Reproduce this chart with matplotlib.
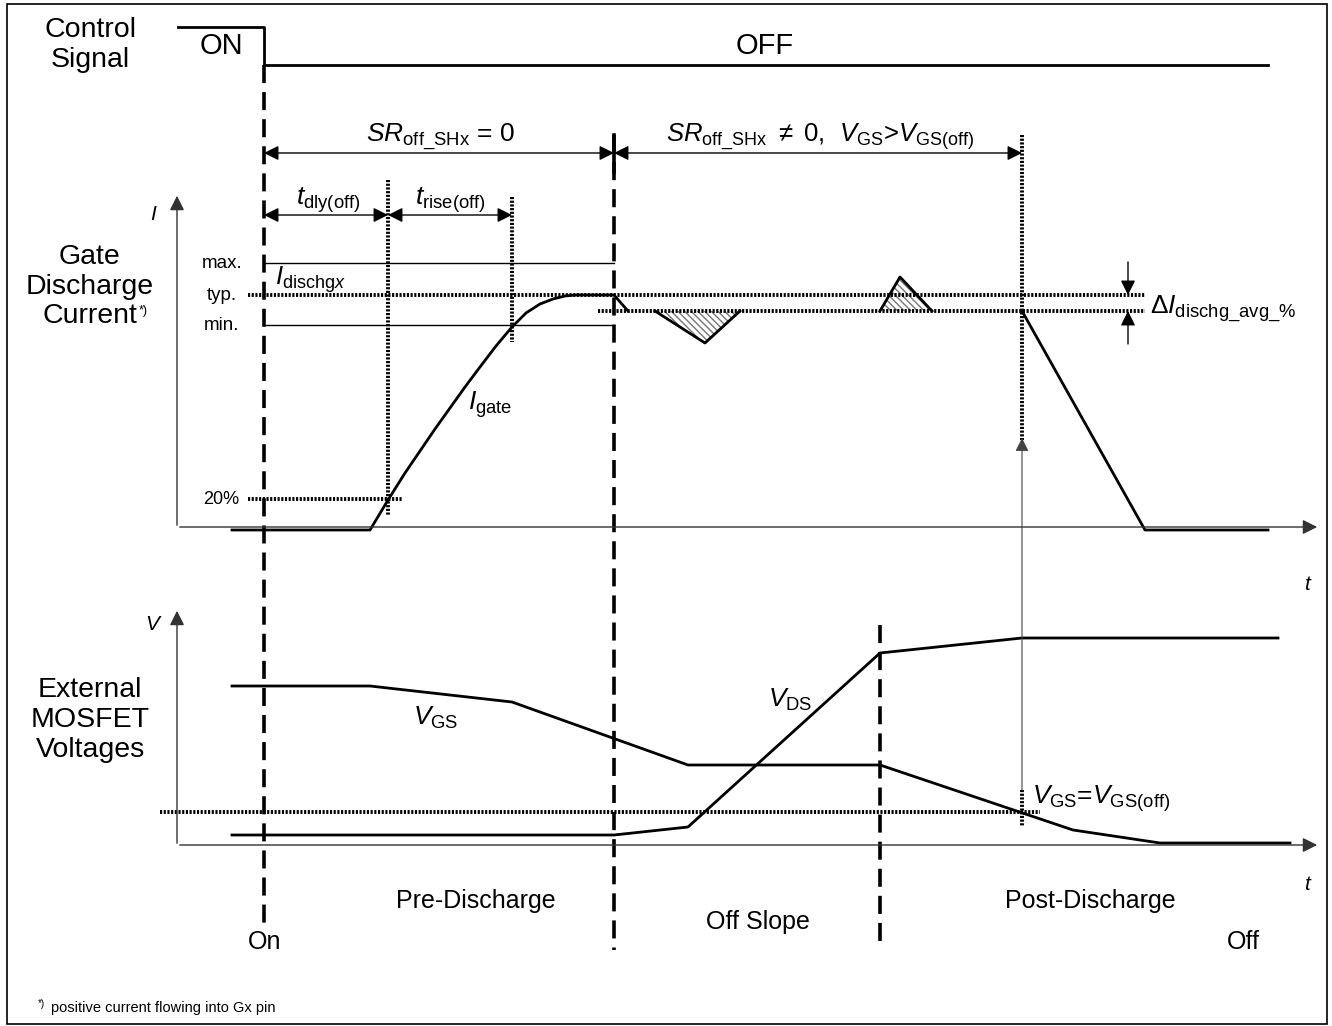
import matplotlib
matplotlib.use('Agg')
import matplotlib.pyplot as plt
from matplotlib.patches import Rectangle, Polygon

plt.rcParams['font.family'] = ['Liberation Sans', 'DejaVu Sans']
plt.rcParams['mathtext.fontset'] = 'custom'
plt.rcParams['mathtext.rm'] = 'Liberation Sans'
plt.rcParams['mathtext.it'] = 'Liberation Sans:italic'
plt.rcParams['mathtext.bf'] = 'Liberation Sans:bold'

# waveforms (diagram units, y grows downward)
ctrl_t = [178, 264, 264, 1268]
ctrl_y = [27, 27, 65, 65]

igate_t = [232, 370, 388, 405, 420, 435, 450, 465, 480, 496, 512, 526, 540, 553, 565, 575, 614, 628]
igate_y = [530, 530, 500, 473, 451, 429, 408, 387, 367, 346, 327, 313, 304, 299, 296, 295, 295, 311]
ifall_t = [1022, 1145, 1268]
ifall_y = [311, 530, 530]
dip_t = [655, 705, 740]
dip_y = [311, 343, 311]
bump_t = [880, 900, 932]
bump_y = [311, 277, 311]

vgs_t = [232, 370, 512, 688, 880, 1073, 1160, 1290]
vgs_y = [686, 686, 702, 765, 765, 830, 843, 843]
vds_t = [232, 614, 688, 880, 1022, 1278]
vds_y = [835, 835, 827, 653, 638, 638]

# current levels
lvl_max, lvl_typ, lvl_avg, lvl_min, lvl_20 = 263, 295, 311, 325, 499
vgs_off = 812

# event markers
dashed_x = [264, 614, 880]
dashed_y = [(65, 926), (135, 950), (625, 950)]
dotted_x = [388, 512, 1022]
dotted_y = [(180, 515), (197, 342), (135, 440)]

fig = plt.figure(figsize=(13.32, 10.26), dpi=100)
ax = fig.add_axes([0, 0, 1, 1])
ax.set_xlim(0, 1332)
ax.set_ylim(1026, 0)
ax.axis('off')

ax.add_patch(Rectangle((7, 4), 1320, 1020, fill=False, lw=1.2, ec='black'))

dash = (0, (5, 2.5))
dots = (0, (0.55, 0.4))

# control signal
ax.plot(ctrl_t, ctrl_y, color='black', lw=2)

# axes
ax.annotate('', xy=(177, 193), xytext=(177, 528),
            arrowprops=dict(arrowstyle='-|>', color='#333333', lw=1, mutation_scale=22))
ax.annotate('', xy=(1320, 527), xytext=(177, 527),
            arrowprops=dict(arrowstyle='-|>', color='#333333', lw=1, mutation_scale=22))
ax.annotate('', xy=(177, 608), xytext=(177, 846),
            arrowprops=dict(arrowstyle='-|>', color='#333333', lw=1, mutation_scale=22))
ax.annotate('', xy=(1320, 845), xytext=(177, 845),
            arrowprops=dict(arrowstyle='-|>', color='#333333', lw=1, mutation_scale=22))

# level lines
ax.plot([264, 614], [lvl_max, lvl_max], color='black', lw=1)
ax.plot([264, 614], [lvl_min, lvl_min], color='black', lw=1)
ax.plot([248, 1145], [lvl_typ, lvl_typ], color='black', lw=2.8, ls=dots)
ax.plot([598, 1145], [lvl_avg, lvl_avg], color='black', lw=2.8, ls=dots)
ax.plot([248, 402], [lvl_20, lvl_20], color='black', lw=2.8, ls=dots)
ax.plot([160, 1040], [vgs_off, vgs_off], color='black', lw=2.8, ls=dots)

# vertical markers
for x, (y0, y1) in zip(dashed_x, dashed_y):
    ax.plot([x, x], [y0, y1], color='black', lw=2.6, ls=dash)
for x, (y0, y1) in zip(dotted_x, dotted_y):
    ax.plot([x, x], [y0, y1], color='black', lw=2.8, ls=dots)
ax.plot([1022, 1022], [790, 826], color='black', lw=2.8, ls=dots)
ax.plot([614, 614], [135, 172], color='black', lw=2.6)

# gate current
ax.plot(igate_t, igate_y, color='black', lw=2)
ax.plot(ifall_t, ifall_y, color='black', lw=2)
for tt, yy in [(dip_t, dip_y), (bump_t, bump_y)]:
    pts = list(zip(tt, yy))
    ax.add_patch(Polygon(pts, closed=True, fill=False, hatch='\\\\\\\\\\', ec='#777777', lw=0))
    ax.plot(tt, yy, color='black', lw=2)

# voltages
ax.plot(vgs_t, vgs_y, color='black', lw=2)
ax.plot(vds_t, vds_y, color='black', lw=2)

# dimension arrows
def dim(x0, x1, y):
    ax.annotate('', xy=(x1, y), xytext=(x0, y),
                arrowprops=dict(arrowstyle='<|-|>', color='black', lw=1,
                                mutation_scale=22, shrinkA=0, shrinkB=0))

dim(264, 614, 153)
dim(614, 1022, 153)
dim(264, 388, 215)
dim(388, 512, 215)

ax.annotate('', xy=(1128, lvl_typ), xytext=(1128, 262),
            arrowprops=dict(arrowstyle='-|>', color='black', lw=1, mutation_scale=22, shrinkA=0, shrinkB=0))
ax.annotate('', xy=(1128, lvl_avg), xytext=(1128, 344),
            arrowprops=dict(arrowstyle='-|>', color='black', lw=1, mutation_scale=22, shrinkA=0, shrinkB=0))
ax.annotate('', xy=(1022, 438), xytext=(1022, 790),
            arrowprops=dict(arrowstyle='-|>', color='#444444', lw=0.8, mutation_scale=20, shrinkA=0, shrinkB=0))

# texts
big = 20.5
ax.text(90, 45, 'Control\nSignal', ha='center', va='center', fontsize=big, linespacing=1.2)
for yy, word in zip([257, 287, 316], ['Gate', 'Discharge', 'Current']):
    ax.text(90, yy, word, ha='center', va='center', fontsize=big)
ax.text(139, 311, '*)', ha='left', va='center', fontsize=9)
ax.text(90, 720, 'External\nMOSFET\nVoltages', ha='center', va='center', fontsize=big, linespacing=1.2)

ax.text(221, 46, 'ON', ha='center', va='center', fontsize=21)
ax.text(765, 46, 'OFF', ha='center', va='center', fontsize=21)

ax.text(440, 137, r'$\mathit{SR}_{\mathrm{off\_SHx}}$ = 0', ha='center', va='center', fontsize=19)
ax.text(820, 137, r'$\mathit{SR}_{\mathrm{off\_SHx}}$ $\neq$ 0,  $\mathit{V}_{\mathrm{GS}}$>$\mathit{V}_{\mathrm{GS(off)}}$',
        ha='center', va='center', fontsize=18.5)
ax.text(328, 200, r'$\mathit{t}_{\mathrm{dly(off)}}$', ha='center', va='center', fontsize=19)
ax.text(450, 200, r'$\mathit{t}_{\mathrm{rise(off)}}$', ha='center', va='center', fontsize=19)

ax.text(153, 215, 'I', ha='center', va='center', fontsize=15, style='italic')
ax.text(152, 625, 'V', ha='center', va='center', fontsize=15, style='italic')
ax.text(1307, 585, 't', ha='center', va='center', fontsize=15, style='italic')
ax.text(1307, 885, 't', ha='center', va='center', fontsize=15, style='italic')

ax.text(222, lvl_max, 'max.', ha='center', va='center', fontsize=13.5)
ax.text(222, lvl_typ, 'typ.', ha='center', va='center', fontsize=13.5)
ax.text(222, lvl_min, 'min.', ha='center', va='center', fontsize=13.5)
ax.text(221, lvl_20, '20%', ha='center', va='center', fontsize=13)

ax.text(275, 280, r'$\mathit{I}_{\mathrm{dischg}\mathit{x}}$', ha='left', va='center', fontsize=18.5)
ax.text(468, 405, r'$\mathit{I}_{\mathrm{gate}}$', ha='left', va='center', fontsize=19)
ax.text(1150, 309, r'$\Delta\mathit{I}_{\mathrm{dischg\_avg\_\%}}$', ha='left', va='center', fontsize=19)

ax.text(413, 718, r'$\mathit{V}_{\mathrm{GS}}$', ha='left', va='center', fontsize=19)
ax.text(768, 700, r'$\mathit{V}_{\mathrm{DS}}$', ha='left', va='center', fontsize=19)
ax.text(1032, 799, r'$\mathit{V}_{\mathrm{GS}}$=$\mathit{V}_{\mathrm{GS(off)}}$', ha='left', va='center', fontsize=19)

ax.text(476, 901, 'Pre-Discharge', ha='center', va='center', fontsize=18)
ax.text(758, 922, 'Off Slope', ha='center', va='center', fontsize=18)
ax.text(1090, 901, 'Post-Discharge', ha='center', va='center', fontsize=18)
ax.text(265, 942, 'On', ha='center', va='center', fontsize=18)
ax.text(1243, 942, 'Off', ha='center', va='center', fontsize=18)

ax.text(38, 1004, '*)', ha='left', va='center', fontsize=7)
ax.text(51, 1008, 'positive current flowing into Gx pin', ha='left', va='center', fontsize=10.5)

fig.savefig('out.png', dpi=100)
